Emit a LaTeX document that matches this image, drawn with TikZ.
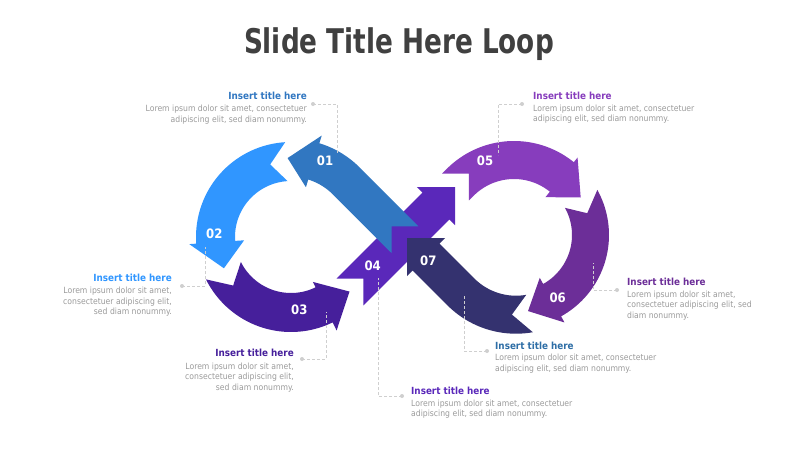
\documentclass[tikz,border=0pt]{standalone}
\usepackage{fontspec}
\setmainfont{DejaVu Sans Condensed}
\newfontfamily\titlefont{DejaVu Sans Condensed}[FakeStretch=0.86]
\definecolor{c01}{HTML}{3177C1}
\definecolor{c02}{HTML}{3096FF}
\definecolor{c03}{HTML}{461F9B}
\definecolor{c04}{HTML}{5A28BA}
\definecolor{c05}{HTML}{873DBD}
\definecolor{c06}{HTML}{6C2E98}
\definecolor{c07}{HTML}{34326F}
\definecolor{t07}{HTML}{2E6EA6}
\definecolor{titlec}{HTML}{404040}
\definecolor{bodyc}{HTML}{9B9B9B}
\definecolor{leadc}{HTML}{CFCFCF}
\begin{document}
\begin{tikzpicture}[x=1pt,y=-1pt,samples=40,
  num/.style={text=white,font=\fontsize{13}{15}\selectfont\bfseries,inner sep=0pt},
  ttl/.style={font=\fontsize{9.8}{12}\selectfont\bfseries,inner sep=0pt},
  bod/.style={text=bodyc,font=\fontsize{8.55}{10}\selectfont,inner sep=0pt},
  lead/.style={leadc,line width=0.7pt,dash pattern=on 3pt off 2pt},
  leaddot/.style={fill=leadc}]
\useasboundingbox (0,0) rectangle (800,450);
\fill[white] (0,0) rectangle (800,450);

\node[font=\titlefont\fontsize{34}{40}\selectfont\bfseries,text=titlec,anchor=base,inner sep=0pt] (title) at (399,53.3) {Slide Title Here Loop};

% 04 straight arrow
\fill[c04] (455,187) -- (416.8,187) -- (422.5,192.7) -- (336.6,278.6) -- (363.4,278.6) -- (363.4,305.4) -- (449.3,219.5) -- (455,225.2) -- cycle;

% 01
\begin{scope}[shift={(291,236)}]
\fill[c01] (267.5:78) -- (287:105) -- (287:97) -- plot[domain=287:315] (\x:97) -- (127.4,-9.7) -- (100.6,-9.7) -- (100.6,17.1) -- (315:59) -- plot[domain=315:287] (\x:59) -- (287:51) -- cycle;
\end{scope}

% 02 and 03
\begin{scope}[shift={(291,237)}]
\fill[c02] (266.5:95) -- plot[domain=266.5:176] (\x:95) -- (176:102) -- (155:74) -- (176:47) -- (176:56) -- plot[domain=176:266.5] (\x:56) -- (254:75.5) -- cycle;
\fill[c03] (153.5:95) -- plot[domain=153.5:64] (\x:95) -- (64:104) -- (43:80) -- (64:50) -- (64:56) -- plot[domain=64:153.5] (\x:56) -- (140:75.5) -- cycle;
\end{scope}

% 05
\begin{scope}[shift={(514,236)}]
\fill[c05] (-71.9,-62.4) -- (225:95) -- plot[domain=225:309] (\x:95) -- (309:101) -- (330:77) -- (309:50) -- (309:57) -- plot[domain=309:225] (\x:57) -- (-45.1,-35.6) -- (-45.1,-62.4) -- cycle;
\end{scope}

% 06
\begin{scope}[shift={(516,235)}]
\fill[c06] (331:93) -- plot[domain=331:421] (\x:93) -- (421:100) -- (441:77) -- (421:49) -- (421:56) -- plot[domain=421:331] (\x:56) -- (343:74.5) -- cycle;
\end{scope}

% 07
\begin{scope}[shift={(516,236.7)}]
\fill[c07] (-109,1.3) -- (-70.8,1.3) -- (-76.5,7) -- (135:59) -- plot[domain=135:80] (\x:59) -- (93:78) -- (80:97) -- plot[domain=80:135] (\x:97) -- (-103.3,33.8) -- (-109,39.5) -- cycle;
\end{scope}

% numbers
\node[num] (n01) at (325,161) {01};
\node[num] (n02) at (214.3,234) {02};
\node[num] (n03) at (299.3,310) {03};
\node[num] (n04) at (372.7,265.7) {04};
\node[num] (n05) at (485,160.7) {05};
\node[num] (n06) at (557.7,297.3) {06};
\node[num] (n07) at (428.3,261) {07};

% leader lines
\coordinate (d1) at (313,104); \coordinate (e1) at (337,153);
\coordinate (d2) at (182,286); \coordinate (e2) at (205,247);
\coordinate (d3) at (302,359); \coordinate (e3) at (326,312);
\coordinate (d4) at (402,396); \coordinate (e4) at (378,278);
\coordinate (d5) at (522,104); \coordinate (e5) at (498,155);
\coordinate (d6) at (617,290); \coordinate (e6) at (593,263);
\coordinate (d7) at (487,351); \coordinate (e7) at (464,295);
\foreach \k in {1,...,7}{
  \draw[lead] (d\k) -| (e\k);
  \fill[leaddot] (d\k) circle (2);
}

% text blocks
\node[ttl,text=c01,anchor=base east] (t1) at (307,99.4) {Insert title here};
\node[bod,anchor=base east] (b1a) at (307,111.7) {Lorem ipsum dolor sit amet, consectetuer};
\node[bod,anchor=base east] (b1b) at (307,122.1) {adipiscing elit, sed diam nonummy.};

\node[ttl,text=c02,anchor=base east] (t2) at (172,281.5) {Insert title here};
\node[bod,anchor=base east] (b2a) at (172,293.8) {Lorem ipsum dolor sit amet,};
\node[bod,anchor=base east] (b2b) at (172,304.2) {consectetuer adipiscing elit,};
\node[bod,anchor=base east] (b2c) at (172,314.6) {sed diam nonummy.};

\node[ttl,text=c03,anchor=base east] (t3) at (294,356.7) {Insert title here};
\node[bod,anchor=base east] (b3a) at (294,369.5) {Lorem ipsum dolor sit amet,};
\node[bod,anchor=base east] (b3b) at (294,379.9) {consectetuer adipiscing elit,};
\node[bod,anchor=base east] (b3c) at (294,390.3) {sed diam nonummy.};

\node[ttl,text=c04,anchor=base west] (t4) at (411,394.3) {Insert title here};
\node[bod,anchor=base west] (b4a) at (411,406) {Lorem ipsum dolor sit amet, consectetuer};
\node[bod,anchor=base west] (b4b) at (411,416.4) {adipiscing elit, sed diam nonummy.};

\node[ttl,text=c05,anchor=base west] (t5) at (533,99.4) {Insert title here};
\node[bod,anchor=base west] (b5a) at (533,111.2) {Lorem ipsum dolor sit amet, consectetuer};
\node[bod,anchor=base west] (b5b) at (533,121.6) {adipiscing elit, sed diam nonummy.};

\node[ttl,text=c06,anchor=base west] (t6) at (627,285.5) {Insert title here};
\node[bod,anchor=base west] (b6a) at (627,297.3) {Lorem ipsum dolor sit amet,};
\node[bod,anchor=base west] (b6b) at (627,307.7) {consectetuer adipiscing elit, sed};
\node[bod,anchor=base west] (b6c) at (627,318.1) {diam nonummy.};

\node[ttl,text=t07,anchor=base west] (t7) at (495,349) {Insert title here};
\node[bod,anchor=base west] (b7a) at (495,360.8) {Lorem ipsum dolor sit amet, consectetuer};
\node[bod,anchor=base west] (b7b) at (495,371.2) {adipiscing elit, sed diam nonummy.};
\end{tikzpicture}
\end{document}
